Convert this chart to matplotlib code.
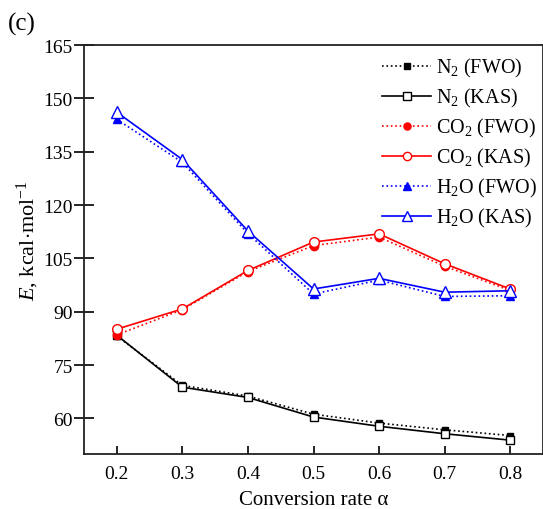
import matplotlib
matplotlib.use('Agg')
import matplotlib.pyplot as plt

plt.rcParams['font.family'] = ['Liberation Serif', 'DejaVu Serif']
plt.rcParams['mathtext.fontset'] = 'custom'
plt.rcParams['mathtext.rm'] = 'Liberation Serif'
plt.rcParams['mathtext.it'] = 'Liberation Serif:italic'

# Conversion rate
alpha = [0.2, 0.3, 0.4, 0.5, 0.6, 0.7, 0.8]

# Activation energies (kcal/mol)
n2_fwo = [83.2, 69.3, 66.3, 61.2, 58.7, 56.8, 55.2]
n2_kas = [83.4, 68.8, 65.9, 60.4, 57.8, 55.7, 53.9]
co2_fwo = [83.5, 90.6, 101.3, 108.6, 111.0, 102.8, 96.0]
co2_kas = [85.1, 90.8, 101.6, 109.6, 111.9, 103.5, 96.4]
h2o_fwo = [144.1, 132.0, 112.0, 95.0, 98.9, 94.3, 94.5]
h2o_kas = [146.1, 132.8, 112.7, 96.4, 99.4, 95.5, 95.9]

yticks = [60, 75, 90, 105, 120, 135, 150, 165]

fig = plt.figure(figsize=(5.43, 5.10), dpi=100)
ax = fig.add_axes([0.1547, 0.1078, 0.8453, 0.8020])

lw = 1.2
ax.plot(alpha, n2_fwo, ':', color='black', lw=lw, marker='s', ms=5,
        mfc='black', mec='black', label='N$_2$ (FWO)')
ax.plot(alpha, n2_kas, '-', color='black', lw=lw, marker='s', ms=6,
        mfc='white', mec='black', label='N$_2$ (KAS)')
ax.plot(alpha, co2_fwo, ':', color='red', lw=lw, marker='o', ms=6,
        mfc='red', mec='red', label='CO$_2$ (FWO)')
ax.plot(alpha, co2_kas, '-', color='red', lw=lw, marker='o', ms=7,
        mfc='white', mec='red', label='CO$_2$ (KAS)')
ax.plot(alpha, h2o_fwo, ':', color='blue', lw=lw, marker='^', ms=6,
        mfc='blue', mec='blue', label='H$_2$O (FWO)')
ax.plot(alpha, h2o_kas, '-', color='blue', lw=lw, marker='^', ms=8,
        mfc='white', mec='blue', label='H$_2$O (KAS)')

ax.set_xlim(0.15, 0.85)
ax.set_ylim(50, 165)
ax.set_xticks(alpha)
ax.set_xticklabels(['%.1f' % a for a in alpha])
ax.set_yticks(yticks)
ax.tick_params(axis='x', direction='in', length=6, width=1.2, labelsize=14, pad=8)
ax.tick_params(axis='y', direction='inout', length=14, width=1.2, labelsize=14, pad=1)
for s in ax.spines.values():
    s.set_linewidth(1.3)
    s.set_color('#222222')

ax.set_xlabel('Conversion rate α', fontsize=15, labelpad=6)
ax.set_ylabel(r'$E$, kcal$\cdot$mol$^{-1}$', fontsize=16)
ax.yaxis.set_label_coords(-0.094, 0.523)

ax.legend(loc='upper right', bbox_to_anchor=(1.015, 1.005), frameon=False, fontsize=14.5,
          handlelength=2.4, handletextpad=0.25, labelspacing=0.35, borderaxespad=0.25,
          markerscale=0.85)

fig.text(0.015, 0.952, '(c)', fontsize=18, ha='left', va='center')

fig.savefig('out.png', dpi=100)
